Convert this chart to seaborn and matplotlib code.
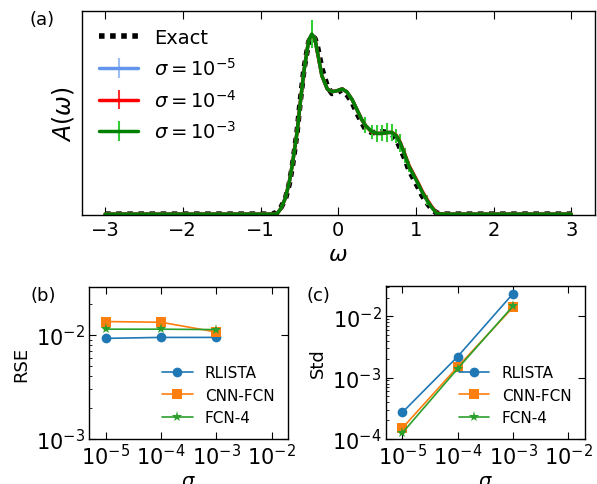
import matplotlib
matplotlib.use("Agg")
import matplotlib.pyplot as plt
import seaborn as sns
import numpy as np

# spectral function
omega = [-3.0, -2.0, -1.0, -0.85, -0.79, -0.74, -0.68, -0.63, -0.59, -0.53, -0.49,
         -0.44, -0.38, -0.34, -0.30, -0.27, -0.21, -0.14, -0.08, -0.02, 0.05, 0.11,
         0.18, 0.24, 0.30, 0.35, 0.43, 0.50, 0.56, 0.63, 0.69, 0.75, 0.80, 0.86,
         0.91, 0.97, 1.03, 1.08, 1.14, 1.20, 1.27, 1.35, 2.0, 3.0]
A_exact = [0, 0, 0, 0, 0.01, 0.035, 0.085, 0.17, 0.27, 0.46, 0.63,
           0.82, 0.97, 1.005, 0.99, 0.95, 0.82, 0.72, 0.68, 0.685, 0.70, 0.675,
           0.63, 0.57, 0.52, 0.48, 0.46, 0.46, 0.465, 0.46, 0.45, 0.42, 0.37, 0.31,
           0.25, 0.20, 0.15, 0.105, 0.066, 0.03, 0.005, 0, 0, 0]
A_s5 = [0, 0, 0, 0, 0.0, 0.03, 0.09, 0.18, 0.28, 0.46, 0.62,
        0.81, 0.98, 1.012, 0.99, 0.92, 0.78, 0.705, 0.69, 0.695, 0.705, 0.69,
        0.645, 0.59, 0.535, 0.50, 0.465, 0.455, 0.455, 0.46, 0.46, 0.44, 0.40, 0.333,
        0.272, 0.222, 0.172, 0.127, 0.082, 0.042, 0.004, 0, 0, 0]
A_s4 = [0, 0, 0, 0, 0.0, 0.03, 0.09, 0.18, 0.28, 0.46, 0.62,
        0.81, 0.98, 1.012, 0.99, 0.92, 0.78, 0.705, 0.69, 0.695, 0.705, 0.69,
        0.645, 0.59, 0.535, 0.50, 0.463, 0.455, 0.455, 0.46, 0.461, 0.443, 0.403, 0.335,
        0.275, 0.225, 0.175, 0.13, 0.085, 0.044, 0.005, 0, 0, 0]
A_s3 = [0, 0, 0, 0, 0.0, 0.03, 0.09, 0.18, 0.28, 0.46, 0.62,
        0.81, 0.98, 1.015, 0.99, 0.92, 0.78, 0.705, 0.69, 0.695, 0.705, 0.69,
        0.645, 0.59, 0.535, 0.50, 0.465, 0.455, 0.455, 0.46, 0.46, 0.44, 0.40, 0.33,
        0.27, 0.22, 0.17, 0.125, 0.08, 0.04, 0.003, 0, 0, 0]
err_s5 = [0] * 25 + [0.003] * 9 + [0] * 10
err_s4 = [0] * 25 + [0.012, 0.01, 0.01, 0.012, 0.01, 0.01, 0.012, 0.01, 0.008] + [0] * 10
err_s3 = [0] * 13 + [0.08, 0, 0.035] + [0] * 9 + \
         [0.045, 0.04, 0.05, 0.045, 0.055, 0.05, 0.04, 0.05, 0.04, 0.03, 0, 0, 0, 0.03] + [0] * 5

# panels (b) and (c)
sigma = [1e-5, 1e-4, 1e-3]
rse_rlista = [0.0093, 0.0095, 0.0095]
rse_cnn = [0.0135, 0.0133, 0.0107]
rse_fcn = [0.0114, 0.0114, 0.0113]
std_rlista = [2.7e-4, 2.2e-3, 0.0234]
std_cnn = [1.5e-4, 1.5e-3, 0.0140]
std_fcn = [1.25e-4, 1.4e-3, 0.0147]

sns.set_style("ticks")
plt.rcParams["font.family"] = ["DejaVu Sans"]
plt.rcParams["axes.linewidth"] = 1.0
for k in ["text.color", "axes.labelcolor", "xtick.color", "ytick.color", "axes.edgecolor"]:
    plt.rcParams[k] = "black"

fig = plt.figure(figsize=(5.97, 4.85), dpi=100)
ax = fig.add_axes([0.137, 0.555, 0.859, 0.421])

sns.lineplot(x=omega, y=A_exact, ax=ax, color="k", lw=4, linestyle=(0, (1, 1)),
             label="Exact", sort=False)
ax.errorbar(omega, A_s5, yerr=err_s5, color="cornflowerblue", ecolor="#9dbff5",
            lw=2.5, elinewidth=1.5, label=r"$\sigma=10^{-5}$")
ax.errorbar(omega, A_s4, yerr=err_s4, color="red", ecolor="#ff3030",
            lw=2.5, elinewidth=1.5, label=r"$\sigma=10^{-4}$")
ax.errorbar(omega, A_s3, yerr=err_s3, color="green", ecolor="limegreen",
            lw=2.5, elinewidth=1.5, label=r"$\sigma=10^{-3}$")
ax.set_xlim(-3.3, 3.3)
ax.set_ylim(-0.004, 1.147)
ax.set_xticks([-3, -2, -1, 0, 1, 2, 3])
ax.set_yticks([])
ax.tick_params(direction="in", top=True, labelsize=14, length=5.5)
ax.set_xlabel(r"$\omega$", fontsize=16)
ax.set_ylabel(r"$A(\omega)$", fontsize=17)
ax.legend(loc="upper left", frameon=False, fontsize=14)
fig.text(0.07, 0.958, "(a)", fontsize=13, ha="center", va="center")

def small_panel(rect, ys, ylabel, ylim, tag, tagx):
    bx = fig.add_axes(rect)
    names = ["RLISTA", "CNN-FCN", "FCN-4"]
    marks = ["o", "s", "*"]
    cols = sns.color_palette("tab10")[:3]
    for y, n, m, c in zip(ys, names, marks, cols):
        sns.lineplot(x=sigma, y=y, ax=bx, marker=m, markersize=7 if m != "*" else 8,
                     markeredgewidth=0, color=c, label=n, lw=1.2)
    bx.set_xscale("log")
    bx.set_yscale("log")
    bx.set_xlim(5e-6, 2e-2)
    bx.set_ylim(*ylim)
    bx.set_xticks([1e-5, 1e-4, 1e-3, 1e-2])
    bx.tick_params(which="major", direction="in", top=True, right=True,
                   labelsize=15, length=5, pad=3)
    bx.tick_params(which="minor", direction="in", length=2.5)
    bx.set_xlabel(r"$\sigma$", fontsize=14, labelpad=2)
    bx.set_ylabel(ylabel, fontsize=13)
    bx.legend(loc="lower right", frameon=False, fontsize=11)
    fig.text(tagx, 0.39, tag, fontsize=13, ha="center", va="center")
    return bx

small_panel([0.149, 0.093, 0.334, 0.313], [rse_rlista, rse_cnn, rse_fcn],
            "RSE", (1e-3, 2.9e-2), "(b)", 0.072)
small_panel([0.646, 0.093, 0.334, 0.315], [std_rlista, std_cnn, std_fcn],
            "Std", (1e-4, 3.1e-2), "(c)", 0.533)

fig.savefig("out.png", dpi=100)
